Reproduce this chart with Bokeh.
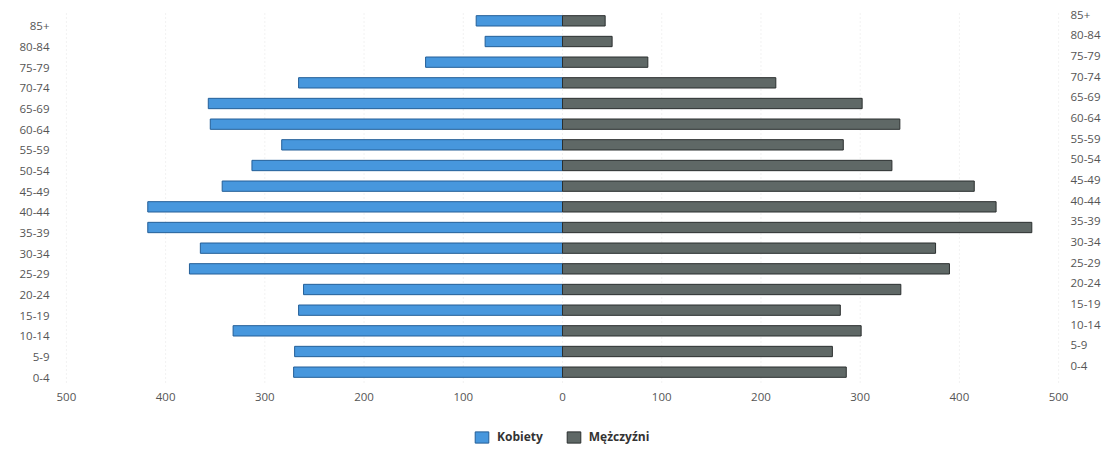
from bokeh.plotting import figure
from bokeh.models import (ColumnDataSource, Range1d, LinearAxis,
                          FixedTicker, Legend, LegendItem)
from bokeh.embed import file_html
from bokeh.resources import INLINE

# Age groups, bottom to top
ages = ["0-4", "5-9", "10-14", "15-19", "20-24", "25-29", "30-34", "35-39",
        "40-44", "45-49", "50-54", "55-59", "60-64", "65-69", "70-74",
        "75-79", "80-84", "85+"]
kobiety = [271, 270, 332, 266, 261, 376, 365, 418, 418, 343, 313, 283,
           355, 357, 266, 138, 78, 87]
mezczyzni = [286, 272, 301, 280, 341, 390, 376, 473, 437, 415, 332, 283,
             340, 302, 215, 86, 50, 43]
x_ticks = [-500, -400, -300, -200, -100, 0, 100, 200, 300, 400, 500]

n = len(ages)
pos = [i + 0.5 for i in range(n)]  # slot centre of each age group
src = ColumnDataSource(dict(
    age=ages,
    y=pos,
    k=[-v for v in kobiety],
    m=mezczyzni,
))

FONT = "Open Sans"
FRAME_H = 440
SLOT_PX = 372 / n              # pixel height of one age slot
span = FRAME_H / SLOT_PX       # visible slots incl. room for legend below
y0 = n - span

p = figure(frame_width=1016, frame_height=FRAME_H, y_range=Range1d(y0, n),
           x_range=Range1d(-512, 512), output_backend="svg",
           toolbar_location=None, min_border_left=54, min_border_right=46,
           min_border_top=10, min_border_bottom=0)
p.outline_line_color = None
p.background_fill_color = "white"
p.grid.visible = False

# faint vertical guides at the x ticks, over the bar area only
p.segment(x0=x_ticks, x1=x_ticks, y0=0, y1=n, line_color="#e4e4e4",
          line_dash="1 3", line_width=1)

rk = p.hbar(y="y", left="k", right=0, height=0.5, source=src,
            fill_color="#4797dd", line_color="#245f98", line_width=1)
rm = p.hbar(y="y", left=0, right="m", height=0.5, source=src,
            fill_color="#5f6866", line_color="#2b2f2f", line_width=1)

p.yaxis.visible = False

# age labels on both sides (slightly shifted like the scanned original)
p.extra_y_ranges = {"lft": Range1d(start=y0 + 0.27, end=n + 0.27),
                    "rgt": Range1d(start=y0 - 0.3, end=n - 0.3)}
overrides = {t: a for t, a in zip(pos, ages)}
for name, side, standoff in (("lft", "left", 5), ("rgt", "right", 0)):
    ax = LinearAxis(y_range_name=name, ticker=FixedTicker(ticks=pos),
                    major_label_overrides=overrides)
    ax.axis_line_color = None
    ax.major_tick_line_color = None
    ax.minor_tick_line_color = None
    ax.major_tick_out = 0
    ax.major_label_standoff = standoff
    ax.major_label_text_font = FONT
    ax.major_label_text_font_size = "11.5px"
    ax.major_label_text_color = "#555555"
    p.add_layout(ax, side)

xa = p.xaxis[0]
xa.fixed_location = 0
xa.ticker = FixedTicker(ticks=x_ticks)
xa.major_label_overrides = {t: str(abs(t)) for t in x_ticks}
xa.axis_line_color = None
xa.major_tick_line_color = None
xa.minor_tick_line_color = None
xa.major_tick_out = 0
xa.major_label_standoff = 10
xa.major_label_text_font = FONT
xa.major_label_text_font_size = "11.5px"
xa.major_label_text_color = "#555555"

legend = Legend(items=[LegendItem(label="Kobiety", renderers=[rk]),
                       LegendItem(label="Mężczyźni", renderers=[rm])],
                orientation="horizontal", location=(415, 1))
legend.label_text_font = FONT
legend.label_text_font_style = "bold"
legend.label_text_font_size = "12px"
legend.label_text_color = "#333333"
legend.glyph_width = 17
legend.glyph_height = 14
legend.label_standoff = 7
legend.spacing = 22
legend.padding = 4
legend.margin = 0
legend.border_line_alpha = 0
legend.background_fill_alpha = 0
p.add_layout(legend, "center")

open("out.html", "w").write(file_html(p, INLINE))
